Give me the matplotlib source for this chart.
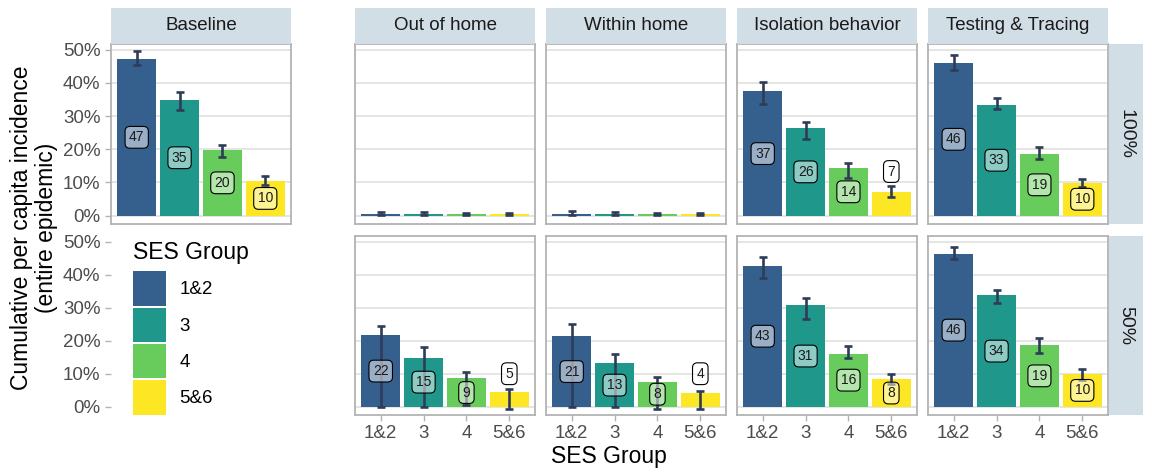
import numpy as np
import matplotlib
matplotlib.use("Agg")
from matplotlib import pyplot as plt
from matplotlib.patches import Patch

plt.rcParams["font.family"] = ["Liberation Sans", "DejaVu Sans"]

groups = ["1&2", "3", "4", "5&6"]
interventions = ["Out of home", "Within home", "Isolation behavior", "Testing & Tracing"]
coverages = ["100%", "50%"]

# cumulative incidence (%) per SES group, with lower / upper error bounds
baseline = [47.2, 34.9, 19.8, 10.4]
baseline_lo = [45.3, 31.8, 17.8, 9.1]
baseline_hi = [49.6, 37.1, 21.3, 12.0]

out_home_100 = [0.5, 0.5, 0.4, 0.4]
out_home_100_lo = [0.3, 0.3, 0.2, 0.2]
out_home_100_hi = [1.1, 1.0, 0.8, 0.8]
within_home_100 = [0.6, 0.5, 0.4, 0.4]
within_home_100_lo = [0.2, 0.3, 0.2, 0.2]
within_home_100_hi = [1.4, 1.0, 0.7, 0.7]
isolation_100 = [37.4, 26.4, 14.4, 7.2]
isolation_100_lo = [33.5, 23.2, 11.5, 5.7]
isolation_100_hi = [40.3, 28.3, 15.9, 8.8]
testing_100 = [46.0, 33.4, 18.6, 9.9]
testing_100_lo = [43.9, 32.0, 17.1, 8.7]
testing_100_hi = [48.5, 35.5, 20.7, 11.2]

out_home_50 = [21.6, 14.9, 8.6, 4.6]
out_home_50_lo = [0.0, 0.0, 0.4, -0.6]
out_home_50_hi = [24.6, 18.0, 10.4, 5.4]
within_home_50 = [21.3, 13.1, 7.6, 4.1]
within_home_50_lo = [0.0, 0.0, -0.6, -0.6]
within_home_50_hi = [25.2, 15.9, 8.9, 4.9]
isolation_50 = [42.7, 30.7, 16.1, 8.3]
isolation_50_lo = [38.9, 26.7, 14.7, 7.0]
isolation_50_hi = [45.3, 32.8, 18.5, 9.8]
testing_50 = [46.4, 33.7, 18.7, 9.9]
testing_50_lo = [44.6, 31.3, 16.2, 8.0]
testing_50_hi = [48.3, 35.5, 20.8, 11.4]

W, H = 1152, 472
fig = plt.figure(figsize=(W / 100, H / 100), dpi=100)

cmap = plt.get_cmap("viridis")
colors = [cmap(v) for v in np.linspace(0.3, 1.0, 4)]
err_color = "#2F3C58"
strip_color = "#D1DEE6"
border_color = "#B3B3B3"
grid_color = "#DEDEDE"
tick_color = "#4D4D4D"


def rect(x0, y0, x1, y1):
    return [x0 / W, 1 - y1 / H, (x1 - x0) / W, (y1 - y0) / H]


def style_axis(ax, show_y, show_x):
    ax.set_xlim(0.4, 4.6)
    ax.set_ylim(-2.5, 51.7)
    ax.set_yticks([0, 10, 20, 30, 40, 50])
    ax.set_xticks(range(1, 5))
    ax.grid(axis="y", color=grid_color, lw=1.1)
    ax.set_axisbelow(True)
    for s in ax.spines.values():
        s.set_color(border_color)
        s.set_linewidth(1.3)
    ax.tick_params(colors=border_color, length=4, width=1.0, labelcolor=tick_color, labelsize=13.5)
    if show_y:
        ax.set_yticklabels([f"{t}%" for t in [0, 10, 20, 30, 40, 50]])
    else:
        ax.tick_params(axis="y", length=0, labelleft=False)
    if show_x:
        ax.set_xticklabels(groups)
        ax.tick_params(axis="x", pad=3)
    else:
        ax.tick_params(axis="x", length=0, labelbottom=False)


def draw_panel(ax, vals, lo, hi):
    x = np.arange(1, 5)
    vals = np.array(vals)
    ax.bar(x, vals, width=0.9, color=colors, zorder=2)
    ax.errorbar(x, vals, yerr=[vals - np.array(lo), np.array(hi) - vals], fmt="none",
                ecolor=err_color, elinewidth=1.9, capsize=3.1, capthick=1.9, zorder=3)
    for xi, v, h in zip(x, vals, hi):
        if v < 1:
            continue
        y = v / 2 if v >= 7.5 else max(h + 4.5, 10)
        ax.text(xi, y, f"{v:.0f}", ha="center", va="center", fontsize=10, color="#1a1a1a", zorder=4,
                bbox=dict(boxstyle="round,pad=0.28,rounding_size=0.35", fc=(1, 1, 1, 0.5),
                          ec="black", lw=0.8))


def top_strip(x0, x1, text):
    sax = fig.add_axes(rect(x0, 8, x1, 44))
    sax.set_facecolor(strip_color)
    sax.set_xticks([])
    sax.set_yticks([])
    for s in sax.spines.values():
        s.set_visible(False)
    sax.text(0.5, 0.5, text, ha="center", va="center", fontsize=13.5, color="#1a1a1a",
             transform=sax.transAxes)


def right_strip(y0, y1, text):
    sax = fig.add_axes(rect(1109, y0, 1143, y1))
    sax.set_facecolor(strip_color)
    sax.set_xticks([])
    sax.set_yticks([])
    for s in sax.spines.values():
        s.set_visible(False)
    sax.text(0.5, 0.5, text, ha="center", va="center", fontsize=14, rotation=270,
             color="#1a1a1a", transform=sax.transAxes)


rows = [(44, 224), (236, 415)]
cols = [(355, 535), (546, 726), (737, 917), (928, 1108)]

panel_data = {
    ("100%", 0): (out_home_100, out_home_100_lo, out_home_100_hi),
    ("100%", 1): (within_home_100, within_home_100_lo, within_home_100_hi),
    ("100%", 2): (isolation_100, isolation_100_lo, isolation_100_hi),
    ("100%", 3): (testing_100, testing_100_lo, testing_100_hi),
    ("50%", 0): (out_home_50, out_home_50_lo, out_home_50_hi),
    ("50%", 1): (within_home_50, within_home_50_lo, within_home_50_hi),
    ("50%", 2): (isolation_50, isolation_50_lo, isolation_50_hi),
    ("50%", 3): (testing_50, testing_50_lo, testing_50_hi),
}

# baseline column (top row only)
ax = fig.add_axes(rect(111, rows[0][0], 291, rows[0][1]))
style_axis(ax, show_y=True, show_x=False)
draw_panel(ax, baseline, baseline_lo, baseline_hi)
top_strip(111, 291, "Baseline")

# empty slot under baseline: keeps the y axis, holds the legend
ax = fig.add_axes(rect(111, rows[1][0], 291, rows[1][1]))
style_axis(ax, show_y=True, show_x=False)
ax.grid(False)
for s in ax.spines.values():
    s.set_visible(False)
handles = [Patch(facecolor=c, edgecolor="none") for c in colors]
leg = ax.legend(handles, groups, title="SES Group", loc="upper left", bbox_to_anchor=(0.12, 0.97),
                frameon=False, fontsize=13.5, title_fontsize=16.5, handlelength=1.8, handleheight=2.45,
                labelspacing=0.1, handletextpad=0.7, borderpad=0, borderaxespad=0, alignment="left")
leg._legend_box.sep = 5

for r, cov in enumerate(coverages):
    for c, name in enumerate(interventions):
        ax = fig.add_axes(rect(cols[c][0], rows[r][0], cols[c][1], rows[r][1]))
        style_axis(ax, show_y=False, show_x=(r == 1))
        draw_panel(ax, *panel_data[(cov, c)])
        if r == 0:
            top_strip(cols[c][0], cols[c][1], name)
    right_strip(rows[r][0], rows[r][1], cov)

fig.text(34 / W, 1 - 228 / H, "Cumulative per capita incidence\n(entire epidemic)", rotation=90,
         ha="center", va="center", multialignment="center", fontsize=16.5, linespacing=1.1)
fig.text(609 / W, 1 - 456 / H, "SES Group", ha="center", va="center", fontsize=16.5)

fig.savefig("out.png", dpi=100)
